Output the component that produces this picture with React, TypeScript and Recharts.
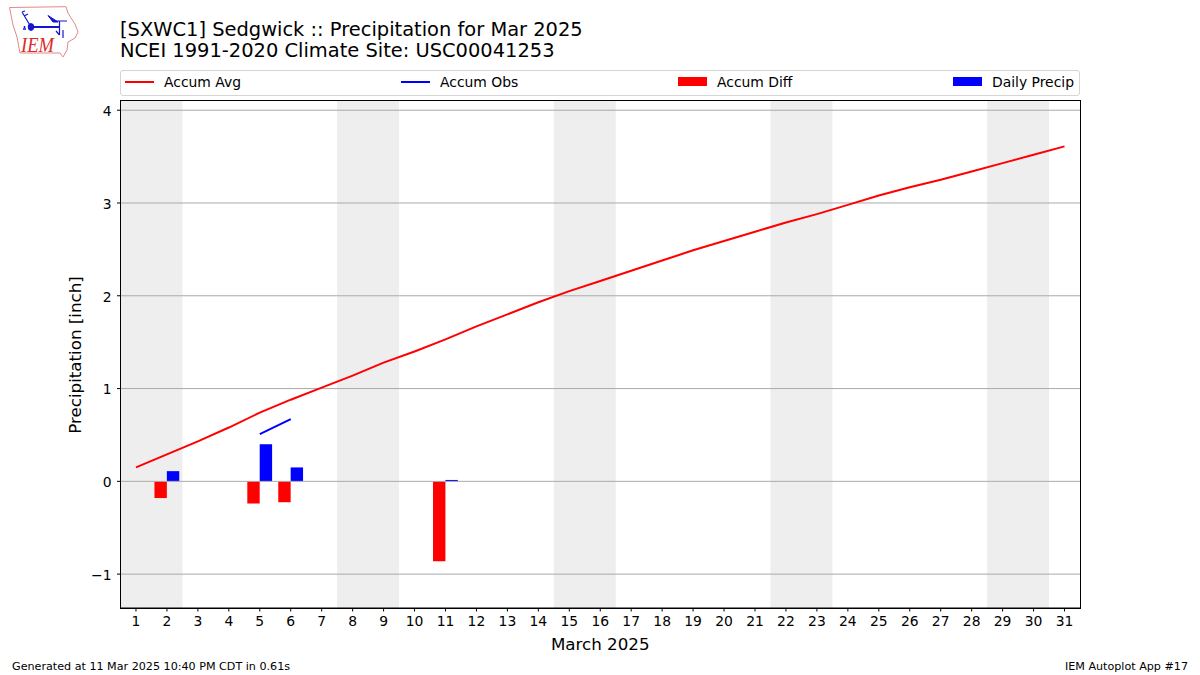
import React from 'react';
import { ComposedChart, Bar, Line, XAxis, YAxis, ReferenceArea, ReferenceLine } from 'recharts';

const days = [1, 2, 3, 4, 5, 6, 7, 8, 9, 10, 11, 12, 13, 14, 15, 16, 17, 18, 19, 20, 21, 22, 23, 24, 25, 26, 27, 28, 29, 30, 31];
const accumAvg = [0.15, 0.29, 0.43, 0.58, 0.74, 0.88, 1.01, 1.14, 1.28, 1.40, 1.53, 1.67, 1.80, 1.93, 2.05, 2.16, 2.27, 2.38, 2.49, 2.59, 2.69, 2.79, 2.88, 2.98, 3.08, 3.17, 3.25, 3.34, 3.43, 3.52, 3.61];
const accumObs = [null, null, null, null, 0.51, 0.67];
const accumDiff = [null, -0.18, null, null, -0.24, -0.225, null, null, null, null, -0.86];
const dailyPrecip = [null, 0.11, null, null, 0.40, 0.15, null, null, null, null, 0.015];
const weekends = [[0.5, 2.5], [7.5, 9.5], [14.5, 16.5], [21.5, 23.5], [28.5, 30.5]];
const yTicks = [-1, 0, 1, 2, 3, 4];

const chartData = days.map((day, i) => ({
  day,
  avg: accumAvg[i],
  obs: accumObs[i] ?? null,
  diff: accumDiff[i] ?? null,
  daily: dailyPrecip[i] ?? null,
}));

const FONT = '"DejaVu Sans", sans-serif';

const IemLogo = () => (
  <svg width={90} height={65} style={{ position: 'absolute', left: 0, top: 0 }}>
    {/* state outline */}
    <path
      d="M9.5 7.5 L66 6.7 L68 13 L71 18 L75 24 L78 32 L75 38 L68 42 L67 50 L63 57 L60 53 L20 53 L17 37 L13 25 Z"
      fill="none"
      stroke="#e08a8a"
      strokeWidth={1}
    />
    {/* station model */}
    <g stroke="#1414d2" fill="#1414d2">
      <path d="M31 27 L60 27" strokeWidth={2} fill="none" />
      <path d="M31 27 L22 12 M22 12 L25 11 M24 16 L28 14" strokeWidth={1.2} fill="none" />
      <ellipse cx={31} cy={27} rx={2.8} ry={3.4} />
      <path d="M48 15.5 L58 22 L53 22 Z" />
      <path d="M55 21 L67 21 M59.5 21 L59.5 35 M56 31 L59.5 35 M63 30 L63 38" strokeWidth={1.2} fill="none" />
      <path d="M23 29 L26 29 M24.5 26 L24.5 28" strokeWidth={1.5} fill="none" />
    </g>
    <text x={21} y={52} textLength={33} lengthAdjust="spacingAndGlyphs" fontFamily='"Liberation Serif", serif' fontStyle="italic" fontSize={21} fill="#d92b2b">
      IEM
    </text>
  </svg>
);

const legendItems = [
  { label: 'Accum Avg', color: '#ff0000', kind: 'line', left: 4 },
  { label: 'Accum Obs', color: '#0000ff', kind: 'line', left: 280 },
  { label: 'Accum Diff', color: '#ff0000', kind: 'bar', left: 557 },
  { label: 'Daily Precip', color: '#0000ff', kind: 'bar', left: 832 },
];

const LegendBox = () => (
  <div
    style={{
      position: 'absolute',
      left: 120,
      top: 70,
      width: 958,
      height: 24,
      border: '1px solid #d5d5d5',
      borderRadius: 3,
      background: '#fff',
    }}
  >
    {legendItems.map((item) => (
      <div key={item.label} style={{ position: 'absolute', left: item.left, top: 0, height: 24, whiteSpace: 'nowrap' }}>
        <div
          style={{
            position: 'absolute',
            left: 0,
            top: item.kind === 'line' ? 9.5 : 6,
            width: 29,
            height: item.kind === 'line' ? 2 : 9,
            background: item.color,
          }}
        />
        <span style={{ position: 'absolute', left: 39, top: 2.5, fontFamily: FONT, fontSize: 13.9, lineHeight: '16px', color: '#000' }}>
          {item.label}
        </span>
      </div>
    ))}
  </div>
);

const App = () => (
  <div style={{ position: 'absolute', left: 0, top: 0, width: 1200, height: 675, background: '#fff', overflow: 'hidden', fontFamily: FONT }}>
    <ComposedChart
      width={1200}
      height={675}
      data={chartData}
      margin={{ top: 100, right: 120, bottom: 37, left: 80.5 }}
      barSize={12.4}
      barGap={0}
    >
      {weekends.map(([x1, x2]) => (
        <ReferenceArea key={x1} x1={x1} x2={x2} y1={-1.365} y2={4.11} fill="#eeeeee" fillOpacity={1} stroke="none" />
      ))}
      {yTicks.map((y) => (
        <ReferenceLine key={y} y={y} stroke="#aaaaaa" strokeWidth={1} />
      ))}
      <XAxis
        dataKey="day"
        type="number"
        domain={[0.5, 31.5]}
        ticks={days}
        interval={0}
        height={30}
        stroke="#000"
        tick={{ fill: '#000', fontSize: 13.9, fontFamily: FONT }}
        tickSize={3.5}
        tickMargin={5}
        label={{ value: 'March 2025', position: 'insideBottom', offset: -12, fontSize: 16.7, fontFamily: FONT, fill: '#000' }}
      />
      <YAxis
        type="number"
        domain={[-1.365, 4.11]}
        ticks={yTicks}
        width={40}
        stroke="#000"
        tick={{ fill: '#000', fontSize: 13.9, fontFamily: FONT, dy: 1 }}
        tickSize={3.5}
        tickMargin={5.5}
        tickFormatter={(v: number) => (v < 0 ? `\u2212${Math.abs(v)}` : `${v}`)}
        label={{ value: 'Precipitation [inch]', angle: -90, position: 'insideLeft', offset: -5, dy: 1, fontSize: 16.7, fontFamily: FONT, fill: '#000', style: { textAnchor: 'middle' } }}
      />
      <Bar dataKey="diff" fill="#ff0000" isAnimationActive={false} />
      <Bar dataKey="daily" fill="#0000ff" isAnimationActive={false} />
      <Line dataKey="avg" stroke="#ff0000" strokeWidth={2} dot={false} isAnimationActive={false} />
      <Line dataKey="obs" stroke="#0000ff" strokeWidth={2} dot={false} isAnimationActive={false} />
    </ComposedChart>

    {/* frame around the axes */}
    <div style={{ position: 'absolute', left: 120, top: 100, width: 959, height: 507, border: '1px solid #000', pointerEvents: 'none' }} />

    <IemLogo />
    <div style={{ position: 'absolute', left: 120, top: 18.7, fontSize: 19.44, lineHeight: '21.7px', color: '#000', whiteSpace: 'pre' }}>
      {'[SXWC1] Sedgwick :: Precipitation for Mar 2025\nNCEI 1991-2020 Climate Site: USC00041253'}
    </div>
    <LegendBox />
    <div style={{ position: 'absolute', left: 12, top: 660, fontSize: 11.15, lineHeight: '13px', color: '#000' }}>
      Generated at 11 Mar 2025 10:40 PM CDT in 0.61s
    </div>
    <div style={{ position: 'absolute', right: 12, top: 660, fontSize: 11.15, lineHeight: '13px', color: '#000' }}>
      IEM Autoplot App #17
    </div>
  </div>
);

export default App;
